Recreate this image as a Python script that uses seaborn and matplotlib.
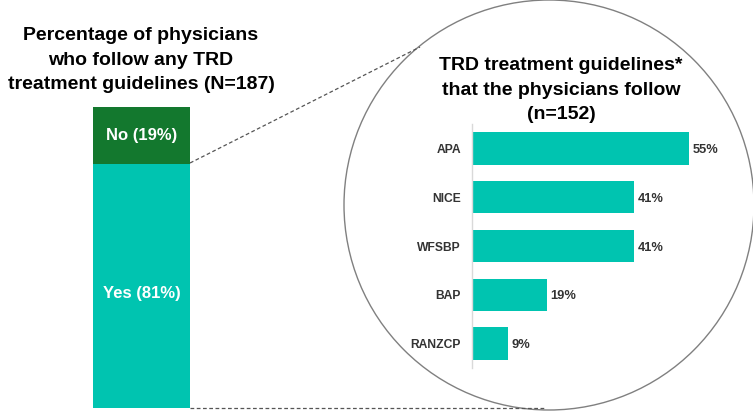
import matplotlib
matplotlib.use("Agg")
import matplotlib.pyplot as plt
import seaborn as sns
import pandas as pd
from matplotlib.patches import Circle
from matplotlib.lines import Line2D

sns.set_theme(style="white")
plt.rcParams["font.family"] = ["Liberation Sans", "DejaVu Sans"]

# ---- data ----
follow_labels = ["Yes", "No"]
follow_values = [81, 19]
guidelines = ["APA", "NICE", "WFSBP", "BAP", "RANZCP"]
guideline_values = [55, 41, 41, 19, 9]

teal = "#00C4B0"
dark_green = "#13782E"
label_gray = "#333333"

W, H = 753, 412
fig = plt.figure(figsize=(W / 100, H / 100), dpi=100)

def px_axes(x0, y0, x1, y1, **kw):
    # pixel coords (top-left origin) -> figure fraction
    return fig.add_axes([x0 / W, 1 - y1 / H, (x1 - x0) / W, (y1 - y0) / H], **kw)

# ---- overlay for circle, dashed lines, titles ----
ov = px_axes(0, 0, W, H)
ov.set_xlim(0, W)
ov.set_ylim(H, 0)
ov.axis("off")
ov.add_patch(Circle((549, 205), 205, fill=False, edgecolor="#808080", lw=1.0))
ov.add_line(Line2D([190, 420], [163, 47], color="#555555", lw=0.9, ls=(0, (3, 2))))
ov.add_line(Line2D([190, 545], [408, 408], color="#555555", lw=0.9, ls=(0, (3, 2))))
ov.text(141, 60, "Percentage of physicians\nwho follow any TRD\ntreatment guidelines (N=187)",
        ha="center", va="center", fontsize=14, fontweight="bold", color="black",
        linespacing=1.6)
ov.text(561, 90, "TRD treatment guidelines*\nthat the physicians follow\n(n=152)",
        ha="center", va="center", fontsize=14, fontweight="bold", color="black",
        linespacing=1.6)

# ---- left stacked bar ----
axl = px_axes(93, 107, 190, 408)
axl.set_facecolor("none")
total = sum(follow_values)
df_tot = pd.DataFrame({"group": ["All"], "value": [total]})
df_yes = pd.DataFrame({"group": ["All"], "value": [follow_values[0]]})
sns.barplot(data=df_tot, x="group", y="value", color=dark_green, width=1.0,
            saturation=1, ax=axl, edgecolor="none")
sns.barplot(data=df_yes, x="group", y="value", color=teal, width=1.0,
            saturation=1, ax=axl, edgecolor="none")
axl.set_xlim(-0.5, 0.5)
axl.set_ylim(0, total)
axl.axis("off")
axl.text(0, follow_values[0] + follow_values[1] / 2, f"{follow_labels[1]} ({follow_values[1]}%)",
         ha="center", va="center", color="white", fontsize=12, fontweight="bold")
axl.text(0, follow_values[0] / 2 - 2.3, f"{follow_labels[0]} ({follow_values[0]}%)",
         ha="center", va="center", color="white", fontsize=12, fontweight="bold")

# ---- right horizontal bar chart ----
axr = px_axes(472, 124, 700, 368)
axr.set_facecolor("none")
df_g = pd.DataFrame({"guideline": guidelines, "value": guideline_values})
sns.barplot(data=df_g, y="guideline", x="value", color=teal, saturation=1,
            width=0.66, ax=axr, orient="h", edgecolor="none")
axr.set_xlim(0, 228 / 3.945)
axr.set_ylim(len(guidelines) - 0.5, -0.5)
for s in ["top", "right", "bottom"]:
    axr.spines[s].set_visible(False)
axr.spines["left"].set_color("#D9D9D9")
axr.spines["left"].set_linewidth(1.0)
axr.set_xticks([])
axr.set_xlabel("")
axr.set_ylabel("")
axr.tick_params(axis="y", length=0, pad=8)
for lbl in axr.get_yticklabels():
    lbl.set_fontweight("bold")
    lbl.set_fontsize(8.7)
    lbl.set_color(label_gray)
    lbl.set_verticalalignment("center_baseline")
for i, v in enumerate(guideline_values):
    axr.text(v + 0.9, i, f"{v}%", ha="left", va="center_baseline", fontsize=9.3,
             fontweight="bold", color=label_gray)

fig.savefig("out.png", dpi=100)
